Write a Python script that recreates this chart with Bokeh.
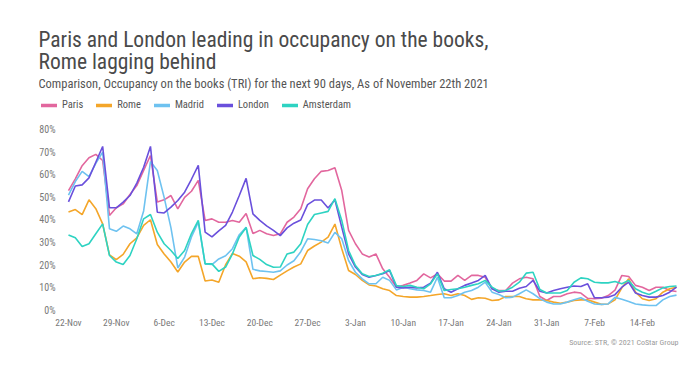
from bokeh.plotting import figure
from bokeh.models import Range1d, FixedTicker, Legend, LegendItem, Title, Label
from bokeh.embed import file_html
from bokeh.resources import INLINE

# ---------------- data ----------------
tick_labels = ["22-Nov", "29-Nov", "6-Dec", "13-Dec", "20-Dec", "27-Dec", "3-Jan",
               "10-Jan", "17-Jan", "24-Jan", "31-Jan", "7-Feb", "14-Feb"]
y_ticks = [0, 10, 20, 30, 40, 50, 60, 70, 80]

paris = [53, 58.2, 64, 67.5, 69, 66.3, 42, 45.4, 47.1, 51.3,
         55.2, 61.9, 68.5, 47.9, 48.9, 50.8, 44.9, 50, 52.7, 57.5,
         39.8, 40.5, 39, 39, 39.8, 39, 42.9, 34, 35.4, 33.9,
         33.1, 33.9, 39, 41.3, 45, 53.8, 58.2, 61.5, 61.9, 63.1,
         53, 35.4, 29.5, 25, 23.6, 25, 18.4, 14.7, 10.3, 11.1,
         12.1, 13.3, 16.2, 14.4, 16.2, 13, 13, 15.5, 13.3, 15.5,
         15.5, 14.7, 9.6, 8.8, 8.8, 12.1, 14, 14.7, 14, 6.2,
         4.4, 6.2, 6.2, 7.4, 8.1, 7.7, 5.4, 5.2, 5.4, 6.6,
         9, 15.5, 15, 11.1, 10.3, 8.8, 10.3, 10.3, 8.8, 8.4]

rome = [43.5, 44.6, 42.4, 48.9, 45, 38.3, 24.6, 22.5, 24.8, 29.5,
        32.1, 37.6, 40.1, 29.2, 25, 21.4, 17, 21.4, 23.9, 23.9,
        13, 13.5, 12.5, 20.2, 25.2, 24, 21.5, 14, 14.5, 14.2,
        13.7, 15.6, 17.5, 19.2, 20.6, 26.5, 28.5, 30.2, 32.4, 38.2,
        27.3, 17.7, 15.9, 13.3, 11.3, 10.8, 9.6, 8.8, 6.6, 6.2,
        5.9, 5.9, 6.2, 6.6, 7.1, 7.4, 6.6, 7.4, 6.6, 4.9,
        5.6, 5.4, 4.4, 4.7, 6.2, 6.2, 6.2, 5.2, 4.7, 4.7,
        4.4, 3.7, 3.2, 3.7, 4.4, 4.7, 4.7, 3.7, 2.7, 2.9,
        4.7, 10, 14, 8.1, 5.2, 4.4, 5.2, 8.1, 9.6, 10.3]

madrid = [51, 57, 61.5, 59.2, 65, 70, 36.1, 35, 37.3, 36.1,
          33.9, 44, 65.8, 61.9, 50, 36.5, 18.8, 23.6, 32.5, 39,
          20.6, 20.3, 22.8, 24.2, 27.3, 33.5, 36.8, 18.2, 17.5, 17.2,
          16.9, 17.5, 20.1, 22, 26, 31.7, 31.4, 30.8, 29.8, 34.5,
          31.7, 22.1, 16.9, 14, 11.8, 11.8, 14.7, 13.3, 9.1, 10.3,
          9.6, 9.1, 8.8, 8.1, 14.7, 5.6, 5.6, 6.6, 8.1, 8.8,
          10.3, 12.5, 8.1, 7.1, 5.6, 5.9, 7.4, 9.1, 7.4, 5.2,
          3.7, 2.9, 2.9, 3.7, 4.7, 5.6, 4.1, 2.9, 2.7, 2.9,
          5.8, 5, 4, 2.9, 2.5, 2.2, 2.2, 4.7, 6.2, 6.8]

london = [48, 55, 55.5, 58.6, 65.5, 72.5, 45.4, 45.4, 47.9, 50.8,
          56.3, 63.3, 72.5, 43.4, 43.1, 45.7, 48.6, 52.3, 58, 64.1,
          34.6, 32.5, 35.2, 37.6, 43.5, 50.8, 58.4, 42.7, 39.8, 37.4,
          35.4, 33.1, 36.5, 38.6, 40, 46.8, 48.8, 48.8, 45.3, 48.9,
          36.8, 25, 19.2, 15.9, 14.7, 15.5, 16.2, 17.7, 10.3, 10,
          10.3, 10, 10.3, 12.1, 16.9, 9.6, 8.1, 9.6, 11.1, 12.1,
          13.3, 15.5, 9.6, 8.1, 8.5, 8.5, 9.8, 10.6, 13.3, 8.5,
          7.7, 8.8, 9.6, 10.3, 10.8, 10.6, 11.8, 5.6, 5.6, 5.9,
          7, 10.3, 12.5, 7.7, 6.6, 5.9, 5.9, 6.6, 8.1, 10.3]

amsterdam = [33.4, 32.1, 28.3, 29.5, 33.9, 38.3, 24.3, 21.4, 20.3, 24.3,
             31.7, 40.5, 42.4, 34.6, 29.5, 26.5, 23, 26.5, 34, 39.8,
             20.6, 20.6, 17.3, 19.2, 25, 32.5, 36.7, 24.3, 22.6, 20.3,
             19.1, 19.2, 25, 25.8, 29.5, 38, 42.4, 43.1, 43.8, 49.4,
             39.8, 26.5, 19.9, 16.2, 15, 15.5, 16.5, 18, 11, 10.6,
             11.1, 10.3, 9.6, 11.8, 16.2, 8.8, 9.3, 9.6, 10.3, 11.1,
             11.8, 13.3, 10.3, 8.5, 8.8, 10.3, 12.5, 16.5, 16.9, 9.3,
             7.7, 7.7, 7.7, 8.8, 12.5, 14.4, 14, 12.5, 12.2, 12.2,
             12.8, 11.8, 13.3, 9.6, 8.1, 7.1, 8.5, 10, 10.6, 10.8]

series_names = ["Paris", "Rome", "Madrid", "London", "Amsterdam"]
series_values = [paris, rome, madrid, london, amsterdam]
series_colors = ["#E2679E", "#F4A62A", "#6EC2F0", "#6A50DC", "#2ED3C2"]

days = list(range(len(paris)))

FONT = "Roboto Condensed"

# ---------------- figure ----------------
# frame spans from the top of the canvas so that titles and legend live inside it
p = figure(width=696, height=360, output_backend="svg", toolbar_location=None,
           x_range=Range1d(-4.39, 90.17), y_range=Range1d(-1.33, 137.0),
           min_border_left=38, min_border_right=12, min_border_top=0,
           min_border_bottom=47)
p.outline_line_color = None
p.xgrid.visible = False
p.ygrid.visible = False

renderers = []
legend_renderers = []
for name, vals, col in zip(series_names, series_values, series_colors):
    r = p.line(days, vals, line_color=col, line_width=1.6)
    renderers.append(r)
for name, vals, col in zip(series_names, series_values, series_colors):
    # thicker copies used only for the legend swatches
    lr = p.line(days, vals, line_color=col, line_width=3.5, line_cap="round", visible=False)
    legend_renderers.append(lr)

for ax in (p.xaxis[0], p.yaxis[0]):
    ax.axis_line_color = None
    ax.major_tick_line_color = None
    ax.minor_tick_line_color = None
    ax.major_label_text_font = FONT
    ax.major_label_text_color = "#787878"
p.yaxis[0].major_label_text_font_size = "10px"
p.xaxis[0].major_label_text_font_size = "9.5px"

tick_pos = [7 * i for i in range(len(tick_labels))]
p.xaxis[0].ticker = FixedTicker(ticks=tick_pos)
p.xaxis[0].major_label_overrides = {t: lab for t, lab in zip(tick_pos, tick_labels)}
p.xaxis[0].major_label_standoff = -3

p.yaxis[0].ticker = FixedTicker(ticks=y_ticks)
p.yaxis[0].major_label_overrides = {t: f"{t}%" for t in y_ticks}
p.yaxis[0].major_label_standoff = -23

# titles (screen units relative to frame bottom-left; frame left = 38, bottom = 313)
p.add_layout(Label(x=0, y=274, x_units="screen", y_units="screen",
                   text="Paris and London leading in occupancy on the books,",
                   text_font=FONT, text_font_size="21.5px", text_color="#4a4a4a",
                   text_baseline="alphabetic"))
p.add_layout(Label(x=0, y=252, x_units="screen", y_units="screen",
                   text="Rome lagging behind",
                   text_font=FONT, text_font_size="21.5px", text_color="#4a4a4a",
                   text_baseline="alphabetic"))
p.add_layout(Label(x=0, y=230, x_units="screen", y_units="screen",
                   text="Comparison, Occupancy on the books (TRI) for the next 90 days, As of November 22th 2021",
                   text_font=FONT, text_font_size="12.5px", text_color="#555555",
                   text_baseline="alphabetic"))

legend = Legend(items=[LegendItem(label=n, renderers=[r]) for n, r in zip(series_names, legend_renderers)],
                orientation="horizontal", location=(3, 202),
                label_text_font=FONT, label_text_font_size="10.5px",
                label_text_color="#555555", glyph_width=16, glyph_height=10,
                label_standoff=5, spacing=13, padding=0, margin=0,
                border_line_color=None, background_fill_alpha=0,
                inactive_fill_alpha=0)
p.add_layout(legend, "center")

p.add_layout(Title(text="Source: STR, \u00a9 2021 CoStar Group",
                   text_font=FONT, text_font_size="8px", text_color="#9a9a9a",
                   text_font_style="normal", align="right", offset=6, standoff=10), "below")

open("out.html", "w").write(file_html(p, INLINE))
